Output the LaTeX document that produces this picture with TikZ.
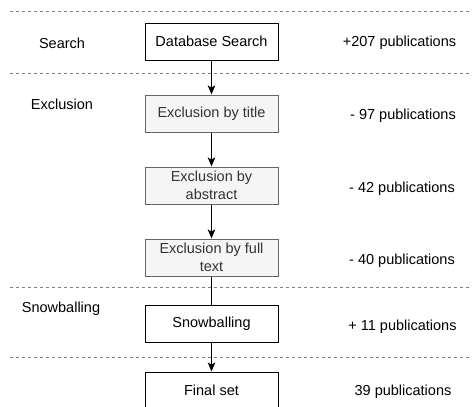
\documentclass[tikz,border=0pt]{standalone}
\usepackage{fontspec}
\setmainfont{Liberation Sans}
\usepackage{tikz}
\usetikzlibrary{arrows.meta}
\usepackage{xcolor}
\definecolor{boxgray}{HTML}{F5F5F5}
\definecolor{linegray}{HTML}{666666}
\definecolor{textgray}{HTML}{333333}

\begin{document}
\begin{tikzpicture}[x=1pt, y=-1pt, line width=1pt, font=\fontsize{14.5}{17.5}\selectfont,
    stage/.style={draw, fill=white, minimum width=133pt, minimum height=37pt, inner sep=1pt, align=center},
    greystage/.style={stage, draw=linegray, fill=boxgray, text=textgray},
    phase/.style={text=black},
    count/.style={text=black},
    divider/.style={draw=gray, line width=0.8pt, dash pattern=on 3pt off 3pt},
    flow/.style={-{Stealth[length=9pt, width=7.5pt, inset=2pt]}}]
  \useasboundingbox (0,0) rectangle (472,407);
  \clip (0,0) rectangle (472,407);

  % phase dividers
  \coordinate (d1l) at (10,11);  \coordinate (d1r) at (472,11);
  \coordinate (d2l) at (10,73);  \coordinate (d2r) at (472,73);
  \coordinate (d3l) at (10,287); \coordinate (d3r) at (472,287);
  \coordinate (d4l) at (10,357); \coordinate (d4r) at (472,357);
  \draw[divider] (d1l) -- (d1r);
  \draw[divider] (d2l) -- (d2r);
  \draw[divider] (d3l) -- (d3r);
  \draw[divider] (d4l) -- (d4r);

  % phase names
  \node[phase] (search) at (62,43) {Search};
  \node[phase] (exclusion) at (62,104) {Exclusion};
  \node[phase] (snowphase) at (61,309) {Snowballing};

  % stages
  \node[stage] (db) at (211.5,41.5) {Database Search};
  \node[greystage] (title) at (211.5,113.5) {Exclusion by title};
  \node[greystage] (abstract) at (211.5,185.5) {Exclusion by\\abstract};
  \node[greystage] (fulltext) at (211.5,257.5) {Exclusion by full\\text};
  \node[stage] (snow) at (211.5,324) {Snowballing};
  \node[stage] (final) at (211.5,390.5) {Final set};

  % counts
  \node[count] (n207) at (399.5,43) {+207 publications};
  \node[count] (n97) at (403,116) {- 97 publications};
  \node[count] (n42) at (402,189) {- 42 publications};
  \node[count] (n40) at (402,261) {- 40 publications};
  \node[count] (n11) at (402.5,327) {+ 11 publications};
  \node[count] (n39) at (403,392) {39 publications};

  % connectors
  \draw[flow] (db) -- (title);
  \draw[flow] (title) -- (abstract);
  \draw[flow] (abstract) -- (fulltext);
  \draw (fulltext) -- (snow);
  \draw[flow] (snow) -- (final);
\end{tikzpicture}
\end{document}
